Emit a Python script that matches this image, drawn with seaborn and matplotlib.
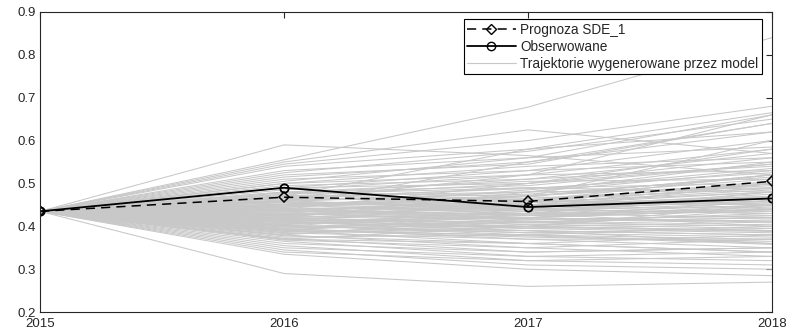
import numpy as np
import pandas as pd
import matplotlib
matplotlib.use("Agg")
import matplotlib.pyplot as plt
import seaborn as sns
from matplotlib.lines import Line2D

years = [2015, 2016, 2017, 2018]
start_value = 0.435

forecast = [0.435, 0.468, 0.458, 0.505]
observed = [0.435, 0.490, 0.445, 0.465]

traj_2016 = [0.59, 0.555, 0.55, 0.545, 0.54, 0.53, 0.525, 0.52, 0.515, 0.51,
             0.505, 0.50, 0.50, 0.495, 0.49, 0.49, 0.485, 0.48, 0.48, 0.475,
             0.475, 0.47, 0.47, 0.465, 0.465, 0.46, 0.46, 0.458, 0.455, 0.452,
             0.45, 0.45, 0.448, 0.445, 0.443, 0.44, 0.44, 0.438, 0.435, 0.433,
             0.43, 0.43, 0.428, 0.425, 0.423, 0.42, 0.42, 0.418, 0.415, 0.413,
             0.41, 0.41, 0.408, 0.405, 0.403, 0.40, 0.40, 0.398, 0.395, 0.393,
             0.39, 0.39, 0.388, 0.385, 0.383, 0.38, 0.378, 0.375, 0.372, 0.37,
             0.368, 0.365, 0.36, 0.355, 0.35, 0.345, 0.34, 0.335, 0.29, 0.47,
             0.46, 0.44, 0.42, 0.43, 0.45, 0.41, 0.40, 0.39, 0.38, 0.37,
             0.462, 0.456, 0.449, 0.441, 0.436, 0.431, 0.426, 0.421, 0.416, 0.411,
             0.406, 0.401, 0.396, 0.391, 0.386, 0.444, 0.452, 0.427, 0.417, 0.402,
             0.478, 0.472, 0.467, 0.457, 0.447, 0.437, 0.424, 0.414, 0.404, 0.394]
traj_2017 = [0.565, 0.678, 0.625, 0.60, 0.58, 0.56, 0.575, 0.545, 0.55, 0.53,
             0.56, 0.52, 0.54, 0.51, 0.53, 0.50, 0.52, 0.47, 0.505, 0.49,
             0.51, 0.48, 0.50, 0.46, 0.49, 0.47, 0.44, 0.48, 0.45, 0.47,
             0.46, 0.43, 0.455, 0.47, 0.44, 0.45, 0.42, 0.46, 0.43, 0.45,
             0.44, 0.41, 0.43, 0.45, 0.42, 0.40, 0.44, 0.43, 0.41, 0.42,
             0.39, 0.43, 0.40, 0.42, 0.38, 0.41, 0.39, 0.40, 0.37, 0.41,
             0.38, 0.36, 0.39, 0.37, 0.40, 0.35, 0.36, 0.38, 0.34, 0.36,
             0.35, 0.33, 0.34, 0.32, 0.33, 0.31, 0.32, 0.30, 0.26, 0.58,
             0.52, 0.50, 0.48, 0.47, 0.55, 0.46, 0.44, 0.43, 0.42, 0.40,
             0.475, 0.445, 0.465, 0.425, 0.455, 0.415, 0.445, 0.405, 0.435, 0.395,
             0.425, 0.385, 0.415, 0.375, 0.405, 0.485, 0.435, 0.455, 0.395, 0.385,
             0.495, 0.462, 0.488, 0.438, 0.472, 0.418, 0.448, 0.398, 0.428, 0.378]
traj_2018 = [0.52, 0.84, 0.57, 0.68, 0.665, 0.66, 0.65, 0.64, 0.62, 0.60,
             0.585, 0.58, 0.56, 0.57, 0.55, 0.545, 0.53, 0.52, 0.51, 0.50,
             0.54, 0.49, 0.56, 0.50, 0.48, 0.52, 0.46, 0.53, 0.47, 0.44,
             0.49, 0.45, 0.48, 0.51, 0.43, 0.47, 0.44, 0.45, 0.42, 0.50,
             0.46, 0.40, 0.44, 0.48, 0.41, 0.39, 0.43, 0.47, 0.42, 0.45,
             0.38, 0.40, 0.41, 0.44, 0.37, 0.43, 0.36, 0.39, 0.35, 0.42,
             0.40, 0.34, 0.38, 0.37, 0.44, 0.33, 0.38, 0.36, 0.35, 0.34,
             0.37, 0.32, 0.35, 0.31, 0.34, 0.30, 0.33, 0.285, 0.27, 0.62,
             0.66, 0.58, 0.55, 0.60, 0.64, 0.52, 0.50, 0.48, 0.46, 0.45,
             0.515, 0.455, 0.495, 0.435, 0.485, 0.425, 0.475, 0.395, 0.465, 0.385,
             0.445, 0.375, 0.425, 0.365, 0.415, 0.535, 0.455, 0.505, 0.405, 0.395,
             0.545, 0.488, 0.525, 0.448, 0.498, 0.412, 0.468, 0.388, 0.438, 0.358]

rows = []
for i, (a, b, c) in enumerate(zip(traj_2016, traj_2017, traj_2018)):
    for yr, v in zip(years, [start_value, a, b, c]):
        rows.append({"traj": i, "year": yr, "value": v})
traj_df = pd.DataFrame(rows)
fc_df = pd.DataFrame({"year": years, "value": forecast})
ob_df = pd.DataFrame({"year": years, "value": observed})

sns.set_theme(style="white")
plt.rcParams['font.family'] = ['Liberation Sans', 'DejaVu Sans']

fig = plt.figure(figsize=(7.86, 3.31), dpi=100)
ax = fig.add_axes([0.051, 0.057, 0.931, 0.907])

gray = "#c8c8c8"
sns.lineplot(data=traj_df, x="year", y="value", units="traj", estimator=None,
             color=gray, linewidth=0.75, ax=ax, legend=False, sort=False)
sns.lineplot(data=ob_df, x="year", y="value", color="black", linewidth=1.3,
             marker="o", markersize=6, markerfacecolor="none",
             markeredgecolor="black", markeredgewidth=1.3, ax=ax, legend=False)
sns.lineplot(data=fc_df, x="year", y="value", color="black", linewidth=1.1,
             linestyle=(0, (6, 4)), marker="D", markersize=5,
             markerfacecolor="none", markeredgecolor="black",
             markeredgewidth=1.1, ax=ax, legend=False)

ax.set_xlim(2015, 2018)
ax.set_ylim(0.2, 0.9)
ax.set_xticks(years)
ax.set_xticklabels([str(y) for y in years])
ax.set_yticks([0.2, 0.3, 0.4, 0.5, 0.6, 0.7, 0.8, 0.9])
ax.set_yticklabels(["0.2", "0.3", "0.4", "0.5", "0.6", "0.7", "0.8", "0.9"])
ax.set_xlabel("")
ax.set_ylabel("")
ax.tick_params(direction="in", length=4, width=0.8, top=True, right=True,
               labelsize=9.5, colors="#262626")
ax.tick_params(axis="x", pad=4)
ax.tick_params(axis="y", pad=3)
for s in ax.spines.values():
    s.set_visible(True)
    s.set_color("#262626")
    s.set_linewidth(0.8)

handles = [
    Line2D([], [], color="black", linewidth=1.1, linestyle=(0, (6, 4)),
           marker="D", markersize=5, markerfacecolor="none", markeredgecolor="black"),
    Line2D([], [], color="black", linewidth=1.3, marker="o", markersize=6,
           markerfacecolor="none", markeredgecolor="black"),
    Line2D([], [], color=gray, linewidth=0.8),
]
labels = ["Prognoza SDE_1", "Obserwowane", "Trajektorie wygenerowane przez model"]
leg = ax.legend(handles, labels, loc="upper right", bbox_to_anchor=(0.986, 0.975),
                fontsize=9.8, frameon=True, fancybox=False, framealpha=1,
                edgecolor="black", handlelength=3.6, handletextpad=0.3,
                borderpad=0.25, labelspacing=0.22, borderaxespad=0)
leg.get_frame().set_linewidth(0.8)

fig.savefig("out.png", dpi=100)
